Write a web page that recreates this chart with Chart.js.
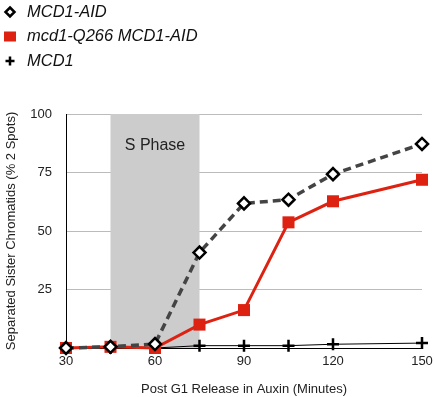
<!DOCTYPE html>
<html>
<head>
<meta charset="utf-8">
<script src="https://cdn.jsdelivr.net/npm/chart.js@4"></script>
<style>
  body { margin: 0; background: #fff; }
  #wrap { width: 435px; height: 397px; }
</style>
</head>
<body>
<div id="wrap"><canvas id="chart" width="435" height="397"></canvas></div>
<script>
// Data
const minutes = [30, 45, 60, 75, 90, 105, 120, 150];
const aidValues = [0, 0.5, 1.7, 40.8, 61.8, 63.4, 74.3, 87.2];
const q266Values = [0, 0.5, 0, 10, 16.2, 53.7, 62.7, 71.9];
const mcd1Values = [0, 0, 0, 1, 1, 1, 1.6, 2.1];
const xTicks = [30, 60, 90, 120, 150];
const yTicks = [0, 25, 50, 75, 100];
const sPhase = [45, 75];

const FONT = 'Liberation Sans, Arial, Helvetica, sans-serif';
const RED = '#dd2211';

function toPoints(values) {
    return minutes.map((m, i) => ({ x: m, y: values[i] }));
}

// Shaded S phase band behind the lines
const sPhasePlugin = {
    id: 'sPhase',
    beforeDatasetsDraw(chart) {
        const { ctx, chartArea, scales } = chart;
        const x1 = scales.x.getPixelForValue(sPhase[0]);
        const x2 = scales.x.getPixelForValue(sPhase[1]);
        ctx.save();
        ctx.fillStyle = '#cccccc';
        ctx.fillRect(x1, chartArea.top, x2 - x1, chartArea.bottom - chartArea.top);
        ctx.fillStyle = '#222';
        ctx.font = '16px ' + FONT;
        ctx.textAlign = 'center';
        ctx.textBaseline = 'middle';
        ctx.fillText('S Phase', (x1 + x2) / 2, chartArea.top + 32);
        ctx.restore();
    }
};

// Vertical legend in the top-left corner
const legendPlugin = {
    id: 'sideLegend',
    afterDraw(chart) {
        const { ctx } = chart;
        const rows = [0, 1, 2];
        ctx.save();
        rows.forEach((idx, r) => {
            const ds = chart.data.datasets[idx];
            const cy = 12 + r * 24.5;
            const cx = 10;
            ctx.lineWidth = ds.pointBorderWidth;
            ctx.strokeStyle = ds.pointBorderColor;
            ctx.fillStyle = ds.pointBackgroundColor;
            if (ds.pointStyle === 'rectRot') {
                ctx.beginPath();
                ctx.moveTo(cx, cy - 4.5); ctx.lineTo(cx + 4.5, cy);
                ctx.lineTo(cx, cy + 4.5); ctx.lineTo(cx - 4.5, cy);
                ctx.closePath(); ctx.fill(); ctx.stroke();
            } else if (ds.pointStyle === 'rect') {
                ctx.fillRect(cx - 6, cy - 5, 12, 10);
            } else {
                ctx.beginPath();
                ctx.moveTo(cx - 4.5, cy); ctx.lineTo(cx + 4.5, cy);
                ctx.moveTo(cx, cy - 4.5); ctx.lineTo(cx, cy + 4.5);
                ctx.stroke();
            }
            ctx.fillStyle = '#111';
            ctx.font = 'italic 16.5px ' + FONT;
            ctx.textBaseline = 'middle';
            ctx.fillText(ds.label, 27, cy);
        });
        ctx.restore();
    }
};

new Chart(document.getElementById('chart'), {
    type: 'line',
    data: {
        datasets: [
            {
                label: 'MCD1-AID',
                data: toPoints(aidValues),
                borderColor: '#444',
                borderWidth: 3.5,
                borderDash: [8, 5],
                pointStyle: 'rectRot',
                pointRadius: 6,
                pointBorderWidth: 2.5,
                pointBorderColor: '#000',
                pointBackgroundColor: '#fff'
            },
            {
                label: 'mcd1-Q266 MCD1-AID',
                data: toPoints(q266Values),
                borderColor: RED,
                borderWidth: 3,
                pointStyle: 'rect',
                pointRadius: 8.5,
                pointBorderWidth: 0,
                pointBorderColor: RED,
                pointBackgroundColor: RED
            },
            {
                label: 'MCD1',
                data: toPoints(mcd1Values),
                borderColor: '#000',
                borderWidth: 1,
                pointStyle: 'crossRot',
                pointRotation: 45,
                pointRadius: 6,
                pointBorderWidth: 2.5,
                pointBorderColor: '#000',
                pointBackgroundColor: '#000'
            }
        ]
    },
    options: {
        responsive: false,
        animation: false,
        clip: false,
        layout: { padding: { top: 114, right: 13, left: 0, bottom: 0 } },
        plugins: { legend: { display: false }, tooltip: { enabled: false } },
        scales: {
            x: {
                type: 'linear',
                min: 30,
                max: 150,
                afterBuildTicks(axis) { axis.ticks = xTicks.map(v => ({ value: v })); },
                afterFit(axis) {
                    axis.height = 49;
                    axis.paddingLeft = 0;
                    axis.paddingRight = 0;
                },
                grid: { display: false, drawTicks: false },
                border: { color: '#000', width: 1 },
                ticks: { color: '#222', font: { family: FONT, size: 13 }, padding: 6 },
                title: {
                    display: true,
                    text: 'Post G1 Release in Auxin (Minutes)',
                    color: '#222',
                    font: { family: FONT, size: 13 },
                    padding: { top: 6, bottom: 0 }
                }
            },
            y: {
                min: 0,
                max: 100,
                afterBuildTicks(axis) { axis.ticks = yTicks.map(v => ({ value: v })); },
                afterFit(axis) { axis.width = 66; },
                grid: { color: '#bbbbbb', lineWidth: 1, drawTicks: false },
                border: { color: '#000', width: 1 },
                ticks: {
                    color: '#222',
                    font: { family: FONT, size: 13 },
                    padding: 14,
                    callback: v => (v === 0 ? '' : v)
                },
                title: {
                    display: true,
                    text: 'Separated Sister Chromatids (% 2 Spots)',
                    color: '#222',
                    font: { family: FONT, size: 13 },
                    padding: { top: 4, bottom: 0 }
                }
            }
        }
    },
    plugins: [sPhasePlugin, legendPlugin]
});
</script>
</body>
</html>
